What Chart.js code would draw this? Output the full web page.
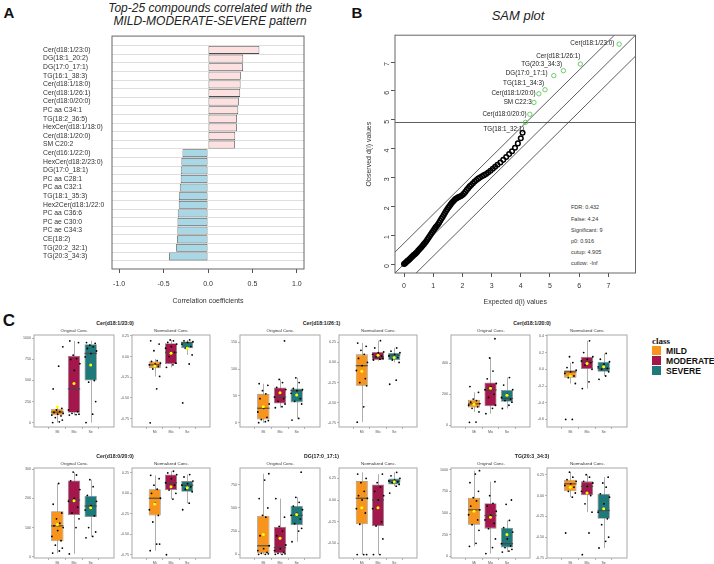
<!DOCTYPE html>
<html>
<head>
<meta charset="utf-8">
<script src="https://cdn.jsdelivr.net/npm/chart.js@4.4.0/dist/chart.umd.min.js"></script>
<style>
body{margin:0;width:714px;height:564px;background:#fff;position:relative;overflow:hidden;font-family:"Liberation Sans",Arial,sans-serif}
.t{position:absolute;white-space:nowrap;line-height:1;color:#222}
canvas{position:absolute}
</style>
</head>
<body>
<script>
// ---- panel A data
const compounds = ['Cer(d18:1/23:0)','DG(18:1_20:2)','DG(17:0_17:1)','TG(16:1_38:3)','Cer(d18:1/18:0)','Cer(d18:1/26:1)','Cer(d18:0/20:0)','PC aa C34:1','TG(18:2_36:5)','HexCer(d18:1/18:0)','Cer(d18:1/20:0)','SM C20:2','Cer(d16:1/22:0)','HexCer(d18:2/23:0)','DG(17:0_18:1)','PC aa C28:1','PC aa C32:1','TG(18:1_35:3)','Hex2Cer(d18:1/22:0','PC aa C36:6','PC ae C30:0','PC ae C34:3','CE(18:2)','TG(20:2_32:1)','TG(20:3_34:3)'];
const corrCoef = [0.578,0.396,0.394,0.369,0.366,0.362,0.347,0.340,0.326,0.325,0.306,0.302,-0.287,-0.299,-0.306,-0.307,-0.317,-0.328,-0.329,-0.340,-0.343,-0.344,-0.347,-0.358,-0.437];
const corrTicks = [-1,-0.5,0,0.5,1];

// ---- panel B data
const expectedD = [0.00,0.03,0.06,0.09,0.12,0.15,0.18,0.21,0.24,0.27,0.30,0.33,0.36,0.40,0.44,0.48,0.52,0.56,0.60,0.64,0.68,0.72,0.76,0.80,0.84,0.88,0.92,0.96,1.00,1.04,1.08,1.12,1.16,1.20,1.24,1.28,1.32,1.36,1.40,1.44,1.48,1.52,1.56,1.60,1.64,1.68,1.72,1.76,1.80,1.85,1.90,1.95,2.00,2.05,2.10,2.15,2.20,2.25,2.30,2.36,2.42,2.48,2.54,2.60,2.67,2.74,2.81,2.88,2.96,3.04,3.12,3.20,3.30,3.40,3.50,3.60,3.70,3.80,3.90,4.00,4.06];
const observedD = [0.00,0.02,0.05,0.08,0.11,0.13,0.16,0.19,0.22,0.25,0.28,0.31,0.33,0.37,0.41,0.46,0.50,0.55,0.59,0.64,0.69,0.74,0.79,0.85,0.91,0.97,1.03,1.09,1.15,1.21,1.27,1.32,1.37,1.43,1.50,1.57,1.63,1.70,1.77,1.84,1.90,1.96,2.01,2.07,2.12,2.17,2.21,2.25,2.28,2.31,2.33,2.36,2.39,2.44,2.50,2.57,2.63,2.69,2.74,2.80,2.86,2.91,2.96,3.00,3.04,3.08,3.12,3.17,3.23,3.30,3.37,3.44,3.52,3.61,3.71,3.81,3.91,4.03,4.18,4.36,4.55];
const sigNames = ['Cer(d18:1/23:0)','Cer(d18:1/26:1)','TG(20:3_34:3)','DG(17:0_17:1)','TG(18:1_34:3)','Cer(d18:1/20:0)','SM C22:3','Cer(d18:0/20:0)','TG(18:1_32:1)'];
const sigExpected = [7.37,6.04,5.46,5.13,4.83,4.62,4.45,4.31,4.16];
const sigObserved = [7.62,6.93,6.70,6.53,6.04,5.90,5.60,5.19,4.91];
const cutup = 4.905;
const delta = 0.725;
const dTicks = [0,1,2,3,4,5,6,7];
const samStats = ['FDR:  0.432','False:  4.24','Significant:  9','p0:  0.916','cutup:  4.905','cutlow:  -Inf'];

// ---- panel C data
const classes = ['MILD','MODERATE','SEVERE'];
const groupLabels = ['Mi','Mo','Se'];
const boxTitles = ['Cer(d18:1/23:0)','Cer(d18:1/26:1)','Cer(d18:1/20:0)','Cer(d18:0/20:0)','DG(17:0_17:1)','TG(20:3_34:3)'];
const origQ1 = [[86,118,499],[6,36,38],[115,124,152],[53,143,136],[11,11,314],[365,319,100]];
const origMed = [[125,401,821],[27,48,60],[139,228,174],[106,194,174],[92,71,421],[537,471,146]];
const origQ3 = [[165,794,931],[54,66,64],[165,276,228],[156,261,209],[415,296,521],[677,612,330]];
const origLo = [[0,86,0],[0,28,8],[87,76,109],[13,10,69],[0,0,135],[115,31,49]];
const origHi = [[180,970,970],[73,81,84],[213,434,308],[251,290,264],[868,600,614],[989,862,414]];
const origMean = [[184,463,684],[30,56,52],[137,239,195],[111,192,168],[214,172,429],[521,452,253]];
const origRange = [[-52,1040],[-8,164],[-10,582],[-4,304],[-40,930],[-20,1020]];
const origTicks = [[0,250,500,750,1000],[0,50,100,150],[0,200,400],[0,100,200,300],[0,250,500,750],[0,250,500,750,1000]];
const origPts = [
  [[0,10,30,60,80,90,100,110,120,130,150,170,400,670,900],[90,95,100,110,130,150,620,700,750,760,800,950,970],[0,100,250,480,500,780,820,850,880,900,920,940,950]],
  [[0,2,4,6,10,20,27,35,45,54,60,70,73],[28,30,35,40,45,48,55,62,66,75,81,153],[5,8,35,40,45,55,60,62,64,75,84]],
  [[20,22,87,110,120,130,137,141,150,160,170,213,250],[76,110,130,180,200,230,250,270,300,350,434,558],[109,130,150,160,170,180,200,230,260,308]],
  [[13,20,30,40,55,70,90,100,106,115,130,150,180,251],[10,100,130,150,170,190,200,230,260,280,290],[65,70,85,100,140,160,175,190,210,240,264]],
  [[0,0,5,10,20,40,60,92,200,400,420,500,600,800,868],[0,0,5,10,20,40,60,100,200,250,300,400,600],[135,250,280,330,380,420,440,480,520,560,614,885]],
  [[115,150,300,365,420,480,520,537,580,640,677,750,850,950,989],[31,100,200,319,380,420,471,520,580,612,700,862],[49,60,80,100,120,146,200,280,330,414,600,650]]
];
const normQ1 = [[-0.14,-0.09,0.10],[-0.29,0.03,0.03],[-0.10,0.0,-0.03],[-0.27,0.04,0.02],[-0.28,-0.30,0.18],[0.05,0.0,-0.28]];
const normMed = [[-0.10,0.05,0.17],[-0.04,0.07,0.09],[-0.03,0.09,0.01],[-0.06,0.13,0.10],[0.02,0.0,0.22],[0.14,0.11,-0.18]];
const normQ3 = [[-0.06,0.16,0.18],[0.10,0.13,0.12],[-0.012,0.15,0.09],[0.05,0.23,0.15],[0.22,0.18,0.25],[0.19,0.17,0.02]];
const normLo = [[-0.24,-0.13,0.02],[-0.74,0.02,0.0],[-0.17,-0.23,-0.08],[-0.70,-0.07,-0.12],[-0.63,-0.63,0.16],[-0.02,-0.20,-0.63]];
const normHi = [[-0.03,0.20,0.20],[0.24,0.27,0.18],[0.08,0.34,0.19],[0.22,0.27,0.23],[0.32,0.30,0.32],[0.28,0.25,0.22]];
const normMean = [[-0.115,0.04,0.10],[-0.11,0.09,0.06],[-0.08,0.07,0.03],[-0.13,0.08,0.07],[-0.09,-0.09,0.21],[0.10,0.03,-0.16]];
const normRange = [[-0.85,0.26],[-0.80,0.34],[-0.69,0.41],[-0.79,0.31],[-0.67,0.37],[-0.75,0.33]];
const normTicks = [[-0.75,-0.5,-0.25,0,0.25],[-0.75,-0.5,-0.25,0,0.25],[-0.6,-0.4,-0.2,0,0.2,0.4],[-0.75,-0.5,-0.25,0,0.25],[-0.5,-0.25,0,0.25],[-0.75,-0.5,-0.25,0,0.25]];
const normDigits = [2,2,1,2,2,2];
const normPts = [
  [[-0.80,-0.39,-0.24,-0.15,-0.12,-0.10,-0.09,-0.08,-0.06,-0.05,0.07,0.15,0.19],[-0.13,-0.10,-0.08,0.0,0.05,0.10,0.12,0.15,0.17,0.19,0.20],[-0.56,-0.09,0.02,0.10,0.12,0.15,0.17,0.18,0.19,0.20]],
  [[-0.74,-0.55,-0.29,-0.25,-0.20,-0.10,-0.04,0.0,0.05,0.10,0.15,0.20,0.24],[0.03,0.04,0.05,0.07,0.08,0.10,0.12,0.13,0.18,0.27],[-0.27,-0.22,0.0,0.03,0.06,0.08,0.10,0.12,0.14,0.18]],
  [[-0.60,-0.60,-0.17,-0.10,-0.08,-0.05,-0.03,-0.01,0.02,0.08,0.15],[-0.23,-0.15,0.0,0.05,0.08,0.10,0.12,0.15,0.20,0.34],[-0.12,-0.08,-0.03,0.0,0.01,0.03,0.06,0.09,0.12,0.19]],
  [[-0.70,-0.62,-0.62,-0.35,-0.27,-0.20,-0.12,-0.06,0.0,0.05,0.10,0.18,0.22],[-0.75,-0.07,0.0,0.04,0.10,0.13,0.18,0.23,0.25,0.27],[-0.20,-0.12,0.02,0.05,0.08,0.10,0.12,0.15,0.20,0.23]],
  [[-0.63,-0.63,-0.63,-0.28,-0.15,-0.10,0.0,0.02,0.05,0.10,0.20,0.25,0.30],[-0.63,-0.63,-0.45,-0.30,-0.25,-0.10,0.0,0.05,0.10,0.15,0.20,0.30],[0.08,0.16,0.18,0.20,0.21,0.22,0.23,0.25,0.28,0.32]],
  [[-0.45,-0.02,0.03,0.05,0.10,0.12,0.14,0.17,0.19,0.22,0.28],[-0.71,-0.45,-0.20,-0.10,0.0,0.05,0.11,0.15,0.17,0.22,0.25],[-0.63,-0.55,-0.50,-0.35,-0.28,-0.20,-0.10,-0.02,0.02,0.10,0.15,0.22]]
];

// ---- layout / style
const classColors = ['#f7941d','#a3174c','#1f7879'];
const JITTER = [-0.28,0.12,0.30,-0.12,0.22,-0.33,0.02,0.35,-0.20,0.15,-0.05,0.27,-0.25,0.08,0.33,-0.15];
const labelNudge = [[-4.7,-0.7],[0,-7.7],[-1.3,-6.7],[-6.3,-2],[-1,-6.3],[-3.3,-1],[-2.3,0],[-3.3,0],[-1,6.7]];
const origCols = [[34,115],[240,321],[451,531]];
const normCols = [[132,211],[339,418],[547,628]];
const rows = [[334,427],[467,558]];

Chart.defaults.font.family = "'Liberation Sans', Arial, sans-serif";
Chart.defaults.animation = false;
Chart.defaults.responsive = false;
Chart.defaults.plugins.legend.display = false;
Chart.defaults.plugins.tooltip.enabled = false;

function txt(s, x, y, style, align) {
  const d = document.createElement('div');
  d.className = 't';
  d.textContent = s;
  const tx = align === 'l' ? '0' : align === 'r' ? '-100%' : '-50%';
  d.style.cssText = `left:${x}px;top:${y}px;${style || ''};transform:translate(${tx},-50%)`;
  document.body.appendChild(d);
}
function canvasAt(l, t, w, h) {
  const c = document.createElement('canvas');
  c.width = Math.round(w); c.height = Math.round(h);
  c.style.left = Math.round(l) + 'px'; c.style.top = Math.round(t) + 'px';
  document.body.appendChild(c);
  return c;
}
const frame = (color, w) => ({
  id: 'frame',
  afterDraw(chart) {
    const a = chart.chartArea, c = chart.ctx;
    c.save(); c.strokeStyle = color; c.lineWidth = w;
    c.strokeRect(a.left, a.top, a.right - a.left, a.bottom - a.top);
    c.restore();
  }
});

// ================= Panel A
txt('A', 9, 12, 'font-weight:bold;font-size:15px;color:#111');
txt('Top-25 compounds correlated with the', 210, 8, 'font-style:italic;font-size:12px;color:#222');
txt('MILD-MODERATE-SEVERE pattern', 210, 21, 'font-style:italic;font-size:12px;color:#222');

new Chart(canvasAt(43, 29, 266, 278), {
  type: 'bar',
  data: {
    datasets: [{
      data: compounds.map((c, i) => ({ x: corrCoef[i], y: i })),
      backgroundColor: corrCoef.map(v => v > 0 ? '#fde1e1' : '#a8d7e5'),
      borderColor: '#4d4d4d', borderWidth: 0.8, borderSkipped: false,
      barPercentage: 0.92, categoryPercentage: 1
    }]
  },
  options: {
    indexAxis: 'y',
    layout: { padding: { top: 5, right: 5 } },
    scales: {
      y: {
        type: 'linear', reverse: true, min: -1.07, max: 24.92,
        afterBuildTicks: s => { s.ticks = compounds.map((c, i) => ({ value: i })); },
        afterFit: s => { s.width = 69; },
        ticks: { callback: v => compounds[v], crossAlign: 'far', font: { size: 6.8 }, color: '#333', autoSkip: false },
        grid: { color: '#d6d6d6', lineWidth: 0.8, drawTicks: false },
        border: { display: false }
      },
      x: {
        type: 'linear', min: -1.08, max: 1.08,
        afterBuildTicks: s => { s.ticks = corrTicks.map(v => ({ value: v })); },
        afterFit: s => { s.height = 38; },
        ticks: { callback: v => v.toFixed(1), font: { size: 7 }, color: '#333', padding: 7, maxRotation: 0 },
        grid: { drawOnChartArea: false, tickLength: 4, color: '#555' },
        border: { display: false },
        title: { display: true, text: 'Correlation coefficients', font: { size: 7 }, color: '#333', padding: { top: 0, bottom: 2 } }
      }
    }
  },
  plugins: [frame('#666', 1)]
});

// ================= Panel B
txt('B', 357, 12, 'font-weight:bold;font-size:15px;color:#111');
txt('SAM plot', 518, 15, 'font-style:italic;font-size:13px;color:#222');
samStats.forEach((s, i) => txt(s, 571, 208.3 + i * 11.2, 'font-size:5.5px;color:#333', 'l'));

const refLine = off => ({ type: 'line', data: [{ x: -1, y: -1 + off }, { x: 9, y: 9 + off }], borderColor: '#333', borderWidth: 0.8, pointRadius: 0 });
const sigLabels = {
  id: 'sigLabels',
  afterDatasetsDraw(chart) {
    const { ctx, scales: { x, y } } = chart;
    ctx.save();
    ctx.font = "6.3px 'Liberation Sans', Arial";
    ctx.fillStyle = '#222'; ctx.textAlign = 'right'; ctx.textBaseline = 'middle';
    sigNames.forEach((n, i) => {
      ctx.fillText(n, x.getPixelForValue(sigExpected[i]) + labelNudge[i][0], y.getPixelForValue(sigObserved[i]) + labelNudge[i][1]);
    });
    ctx.restore();
  }
};
new Chart(canvasAt(365, 27, 276, 281), {
  type: 'scatter',
  data: {
    datasets: [
      { data: expectedD.map((v, i) => ({ x: v, y: observedD[i] })), pointRadius: 2.3, borderWidth: 1.5, borderColor: '#000', backgroundColor: 'rgba(0,0,0,0)' },
      { data: sigExpected.map((v, i) => ({ x: v, y: sigObserved[i] })), pointRadius: 2.2, borderWidth: 0.9, borderColor: '#5cc85c', backgroundColor: 'rgba(0,0,0,0)' },
      refLine(0), refLine(delta), refLine(-delta),
      { type: 'line', data: [{ x: -1, y: cutup }, { x: 9, y: cutup }], borderColor: '#333', borderWidth: 0.8, pointRadius: 0 }
    ]
  },
  options: {
    layout: { padding: { top: 5, right: 5 } },
    scales: {
      x: {
        type: 'linear', min: -0.31, max: 7.93,
        afterBuildTicks: s => { s.ticks = dTicks.map(v => ({ value: v })); },
        afterFit: s => { s.height = 35; },
        ticks: { font: { size: 7 }, color: '#333', padding: 4.5, maxRotation: 0 },
        grid: { drawOnChartArea: false, tickLength: 4, color: '#555' },
        border: { display: false },
        title: { display: true, text: 'Expected d(i) values', font: { size: 7 }, color: '#333', padding: { top: 0, bottom: 2 } }
      },
      y: {
        type: 'linear', min: -0.31, max: 7.93,
        afterBuildTicks: s => { s.ticks = dTicks.map(v => ({ value: v })); },
        afterFit: s => { s.width = 30; },
        ticks: { font: { size: 7 }, color: '#333', padding: 4, minRotation: 90, maxRotation: 90 },
        grid: { drawOnChartArea: false, tickLength: 4, color: '#555' },
        border: { display: false },
        title: { display: true, text: 'Observed d(i) values', font: { size: 7 }, color: '#333', padding: 0 }
      }
    }
  },
  plugins: [frame('#666', 1), sigLabels]
});

// ================= Panel C
txt('C', 9, 319.5, 'font-weight:bold;font-size:17px;color:#111');
txt('class', 652, 341, "font-weight:bold;font-size:9px;font-family:'Liberation Serif',serif;color:#111", 'l');
classes.forEach((c, k) => {
  const sw = document.createElement('div');
  sw.style.cssText = `position:absolute;left:652px;top:${345.5 + k * 10.2}px;width:8.5px;height:9.5px;background:${classColors[k]}`;
  document.body.appendChild(sw);
  txt(c, 666, 350.5 + k * 10.2, 'font-weight:bold;font-size:8.6px;color:#111', 'l');
});

function boxParts(lo, hi, med) {
  return {
    id: 'boxParts',
    beforeDatasetsDraw(chart) {
      const { ctx, scales: { x, y } } = chart;
      ctx.save(); ctx.strokeStyle = '#9b9b9b'; ctx.lineWidth = 0.8;
      lo.forEach((v, k) => {
        const px = Math.round(x.getPixelForValue(k + 1)) + 0.5;
        ctx.beginPath(); ctx.moveTo(px, y.getPixelForValue(v)); ctx.lineTo(px, y.getPixelForValue(hi[k])); ctx.stroke();
      });
      ctx.restore();
    },
    afterDatasetDraw(chart, args) {
      if (args.index !== 0) return;
      const { ctx, scales: { y } } = chart;
      ctx.save(); ctx.strokeStyle = 'rgba(70,70,70,0.85)'; ctx.lineWidth = 1.3;
      args.meta.data.forEach((el, k) => {
        const py = y.getPixelForValue(med[k]);
        ctx.beginPath(); ctx.moveTo(el.x - el.width / 2, py); ctx.lineTo(el.x + el.width / 2, py); ctx.stroke();
      });
      ctx.restore();
    }
  };
}

function boxChart(L, R, T, B, q1, med, q3, lo, hi, mean, pts, range, ticks, fmt) {
  const yw = 16, xh = 8, pad = 3;
  new Chart(canvasAt(L - yw, T - pad, R - L + yw + pad, B - T + pad + xh), {
    type: 'bar',
    data: {
      datasets: [
        { type: 'bar', order: 3, data: q1.map((v, k) => ({ x: k + 1, y: [v, q3[k]] })), backgroundColor: classColors, borderColor: '#8c8c8c', borderWidth: 0.8, borderSkipped: false, barPercentage: 0.74, categoryPercentage: 1 },
        { type: 'scatter', order: 2, data: pts.flatMap((arr, k) => arr.map((v, j) => ({ x: k + 1 + JITTER[j % JITTER.length], y: v }))), pointRadius: 0.9, backgroundColor: '#000', borderWidth: 0 },
        { type: 'scatter', order: 1, data: mean.map((m, k) => ({ x: k + 1, y: m })), pointRadius: 1.5, backgroundColor: '#ffff00', borderWidth: 0 }
      ]
    },
    options: {
      layout: { padding: { top: pad, right: pad } },
      scales: {
        x: {
          type: 'linear', min: 0.4, max: 3.6,
          afterBuildTicks: s => { s.ticks = [1, 2, 3].map(v => ({ value: v })); },
          afterFit: s => { s.height = xh; },
          ticks: { callback: v => groupLabels[v - 1], font: { size: 3.6 }, color: '#555', padding: 1, maxRotation: 0 },
          grid: { drawOnChartArea: false, tickLength: 2, color: '#666', lineWidth: 0.5 },
          border: { display: false }
        },
        y: {
          type: 'linear', min: range[0], max: range[1],
          afterBuildTicks: s => { s.ticks = ticks.map(v => ({ value: v })); },
          afterFit: s => { s.width = yw; },
          ticks: { callback: fmt, font: { size: 3.6 }, color: '#555', padding: 1 },
          grid: { drawOnChartArea: false, tickLength: 2, color: '#666', lineWidth: 0.5 },
          border: { display: false }
        }
      }
    },
    plugins: [boxParts(lo, hi, med), frame('#a8a8a8', 1)]
  });
}

boxTitles.forEach((title, g) => {
  const col = g % 3, row = rows[Math.floor(g / 3)];
  const oc = origCols[col], nc = normCols[col];
  txt(title, (oc[0] - 15 + nc[1]) / 2, row[0] - 10, 'font-weight:bold;font-size:5.2px;color:#222');
  txt('Original Conc.', (oc[0] + oc[1]) / 2, row[0] - 3, 'font-size:4.4px;color:#333');
  txt('Normalized Conc.', (nc[0] + nc[1]) / 2, row[0] - 3, 'font-size:4.4px;color:#333');
  boxChart(oc[0], oc[1], row[0], row[1], origQ1[g], origMed[g], origQ3[g], origLo[g], origHi[g], origMean[g], origPts[g], origRange[g], origTicks[g], v => String(v));
  const d = normDigits[g];
  boxChart(nc[0], nc[1], row[0], row[1], normQ1[g], normMed[g], normQ3[g], normLo[g], normHi[g], normMean[g], normPts[g], normRange[g], normTicks[g], v => v.toFixed(d));
});
</script>
</body>
</html>
